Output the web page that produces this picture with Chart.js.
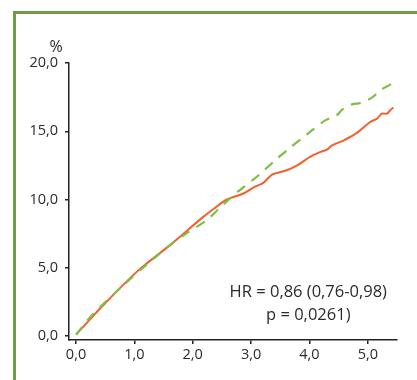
<!DOCTYPE html>
<html>
<head>
<meta charset="utf-8">
<script src="https://cdn.jsdelivr.net/npm/chart.js@4"></script>
<style>
  html, body { margin: 0; padding: 0; background: #fff; }
  #wrap { position: relative; width: 417px; height: 380px; }
</style>
</head>
<body>
<div id="wrap"><canvas id="chart" width="417" height="380"></canvas></div>
<script>
// years of follow-up vs cumulative incidence (%)
const orangeX = [0.01, 0.47, 1.04, 1.61, 2.18, 2.35, 2.58, 2.87, 3.04, 3.21, 3.36, 3.61, 3.79, 4.01, 4.19, 4.30, 4.39, 4.59, 4.81, 5.04, 5.16, 5.24, 5.33, 5.39, 5.44];
const orangeY = [0.15, 2.27, 4.70, 6.66, 8.73, 9.29, 10.0, 10.44, 10.88, 11.22, 11.83, 12.14, 12.5, 13.12, 13.49, 13.66, 13.97, 14.34, 14.88, 15.68, 15.93, 16.29, 16.29, 16.58, 16.73];

const greenX = [0.0, 0.27, 0.78, 1.2, 1.64, 1.93, 2.24, 2.44, 2.70, 2.84, 3.13, 3.41, 3.67, 3.96, 4.27, 4.44, 4.50, 4.56, 4.73, 4.87, 5.07, 5.21, 5.36, 5.50];
const greenY = [0.1, 1.5, 3.6, 5.2, 6.75, 7.63, 8.49, 9.29, 10.31, 10.8, 11.78, 12.87, 13.8, 14.78, 15.8, 16.1, 16.29, 16.58, 16.97, 17.07, 17.46, 17.99, 18.36, 18.72];

const xTicks = [0, 1, 2, 3, 4, 5];
const yTicks = [0, 5, 10, 15, 20];
const hrText = 'HR = 0,86 (0,76-0,98)';
const pText = 'p = 0,0261)';
const yUnit = '%';

const toPoints = (xs, ys) => xs.map((x, i) => ({ x: x, y: ys[i] }));
const fmt = v => v.toFixed(1).replace('.', ',');

const labelFont = { family: 'Open Sans', size: 14.5 };

const extras = {
    id: 'extras',
    afterDraw(chart) {
        const ctx = chart.ctx;
        const xs = chart.scales.x;
        const ys = chart.scales.y;
        ctx.save();
        // green frame (top and left)
        ctx.strokeStyle = '#6f9d47';
        ctx.lineWidth = 3;
        ctx.beginPath();
        ctx.moveTo(14.5, 380);
        ctx.lineTo(14.5, 12.5);
        ctx.lineTo(417, 12.5);
        ctx.stroke();

        ctx.fillStyle = '#2b2b2b';
        ctx.font = '16px "Open Sans"';
        ctx.textAlign = 'center';
        ctx.textBaseline = 'middle';
        ctx.fillText(yUnit, 56, 47);
        ctx.font = '16.5px "Open Sans"';
        ctx.fillText(hrText, xs.getPixelForValue(3.98), ys.getPixelForValue(3.17));
        ctx.fillText(pText, xs.getPixelForValue(3.98), ys.getPixelForValue(1.5));
        ctx.restore();
    }
};

new Chart(document.getElementById('chart'), {
    type: 'scatter',
    data: {
        datasets: [
            {
                label: 'green',
                data: toPoints(greenX, greenY),
                showLine: true,
                borderColor: '#7dbf45',
                borderWidth: 2.2,
                borderDash: [10, 8],
                pointRadius: 0,
                tension: 0.3,
                fill: false
            },
            {
                label: 'orange',
                data: toPoints(orangeX, orangeY),
                showLine: true,
                borderColor: '#f2602e',
                borderWidth: 2,
                pointRadius: 0,
                tension: 0.3,
                fill: false
            }
        ]
    },
    options: {
        responsive: false,
        animation: false,
        layout: { padding: { left: 0, right: 20, top: 63, bottom: 0 } },
        plugins: {
            legend: { display: false },
            tooltip: { enabled: false }
        },
        scales: {
            x: {
                type: 'linear',
                min: -0.12,
                max: 5.5,
                afterBuildTicks: scale => { scale.ticks = xTicks.map(v => ({ value: v })); },
                afterFit: scale => { scale.height = 40; },
                border: { display: true, color: '#222', width: 1.5 },
                grid: { display: true, drawOnChartArea: false, drawTicks: true, tickLength: 4, color: '#222', lineWidth: 1.5 },
                ticks: { color: '#2b2b2b', font: labelFont, padding: 2, maxRotation: 0, callback: v => fmt(v) }
            },
            y: {
                type: 'linear',
                min: -0.29,
                max: 20,
                afterBuildTicks: scale => { scale.ticks = yTicks.map(v => ({ value: v })); },
                afterFit: scale => { scale.width = 69; },
                border: { display: true, color: '#222', width: 1.5 },
                grid: { display: true, drawOnChartArea: false, drawTicks: true, tickLength: 4, color: '#222', lineWidth: 1.5 },
                ticks: { color: '#2b2b2b', font: labelFont, padding: 7, callback: v => fmt(v) }
            }
        }
    },
    plugins: [extras]
});
</script>
</body>
</html>
